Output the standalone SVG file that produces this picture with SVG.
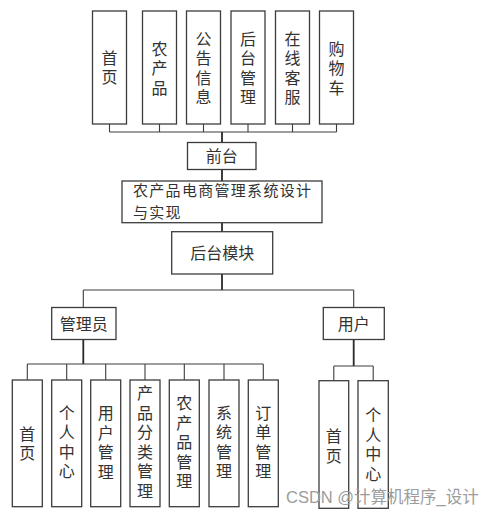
<svg xmlns="http://www.w3.org/2000/svg" width="499" height="513" viewBox="0 0 499 513">
<style>
.box{fill:#fff;stroke:#3c3c3c;stroke-width:1.3}
.t{font-family:"Noto Sans CJK SC","Liberation Serif",sans-serif;font-size:16px;fill:#333;text-anchor:middle}
.v{font-family:"Noto Sans CJK SC","Liberation Serif",sans-serif;font-size:16px;fill:#333;text-anchor:middle;writing-mode:vertical-rl;letter-spacing:3.5px}
.tl{font-family:"Noto Sans CJK SC","Liberation Serif",sans-serif;font-size:15px;letter-spacing:1.3px;fill:#333}
.c{fill:none;stroke:#3c3c3c;stroke-width:1.1}
.trunk{fill:none;stroke:#2a2a2a;stroke-width:1.8}
.wm{font-family:"Liberation Sans","Noto Sans CJK SC",sans-serif;font-size:16.5px;fill:#9c9c9c}
</style>
<rect width="499" height="513" fill="#fff"/>
<g id="connectors">
  <path class="c" d="M109.5 124V132M159.5 124V132M203.5 124V132M248 124V132M292.5 124V132M336.5 124V132M109.5 132H336.5"/>
  <path class="trunk" d="M222 132V142.5M222 169.5V181M222 222.7V231.7M222 274V290"/>
  <path class="c" d="M83.3 290H353.7M83.3 290V307.5M353.7 290V307.5"/>
  <path class="trunk" d="M83.3 339.5V364M353.7 339.5V366"/>
  <path class="c" d="M27.3 364H263.3M27.3 364V380M66.7 364V380M105.7 364V380M145 364V380M184.3 364V380M224 364V380M263.3 364V380"/>
  <path class="c" d="M333.8 366H373.2M333.8 366V380.7M373.2 366V380.7"/>
</g>
<g id="n-home-top"><rect class="box" x="92.5" y="11" width="34" height="113"/><text class="v" x="109.5" y="69">首页</text></g>
<g id="n-product-top"><rect class="box" x="142.5" y="11" width="34" height="113"/><text class="v" x="159.5" y="70">农产品</text></g>
<g id="n-notice"><rect class="box" x="186.5" y="11" width="34" height="113"/><text class="v" x="203.5" y="69.5">公告信息</text></g>
<g id="n-backend"><rect class="box" x="231" y="11" width="34" height="113"/><text class="v" x="248" y="69.5">后台管理</text></g>
<g id="n-service"><rect class="box" x="275.5" y="11" width="34" height="113"/><text class="v" x="292.5" y="69.5">在线客服</text></g>
<g id="n-cart"><rect class="box" x="319.5" y="11" width="34" height="113"/><text class="v" x="336.5" y="70">购物车</text></g>
<g id="n-front"><rect class="box" x="187.5" y="142.5" width="68.5" height="27"/><text class="t" x="221.7" y="162">前台</text></g>
<g id="n-system"><rect class="box" x="122" y="181" width="200" height="41.7"/><text class="tl" x="133" y="196.3">农产品电商管理系统设计</text><text class="tl" x="133" y="218.3">与实现</text></g>
<g id="n-backend-module"><rect class="box" x="171.7" y="231.7" width="101" height="42.3"/><text class="t" x="222.2" y="258.5">后台模块</text></g>
<g id="n-admin"><rect class="box" x="51.7" y="307.5" width="64.3" height="32"/><text class="t" x="83.8" y="329.5">管理员</text></g>
<g id="n-user"><rect class="box" x="323.3" y="307.5" width="61" height="32"/><text class="t" x="353.8" y="329.5">用户</text></g>
<g id="n-a-home"><rect class="box" x="12.3" y="380" width="30" height="126.7"/><text class="v" x="27.3" y="445">首页</text></g>
<g id="n-a-center"><rect class="box" x="51.7" y="380" width="30" height="126.7"/><text class="v" x="66.7" y="443.5">个人中心</text></g>
<g id="n-a-usermgmt"><rect class="box" x="90.7" y="380" width="30" height="126.7"/><text class="v" x="105.7" y="444">用户管理</text></g>
<g id="n-a-category"><rect class="box" x="130" y="380" width="30" height="126.7"/><text class="v" x="145" y="443.5">产品分类管理</text></g>
<g id="n-a-product"><rect class="box" x="169.3" y="380" width="30" height="126.7"/><text class="v" x="184.3" y="444">农产品管理</text></g>
<g id="n-a-sysmgmt"><rect class="box" x="209" y="380" width="30" height="126.7"/><text class="v" x="224" y="443.5">系统管理</text></g>
<g id="n-a-order"><rect class="box" x="248.3" y="380" width="30" height="126.7"/><text class="v" x="263.3" y="443.5">订单管理</text></g>
<g id="n-u-home"><rect class="box" x="319" y="380.7" width="29.7" height="127.6"/><text class="v" x="333.8" y="447.5">首页</text></g>
<g id="n-u-center"><rect class="box" x="358" y="380.7" width="30.3" height="127.6"/><text class="v" x="373.2" y="446">个人中心</text></g>
<text class="wm" x="286" y="503">CSDN @计算机程序_设计</text>
</svg>
